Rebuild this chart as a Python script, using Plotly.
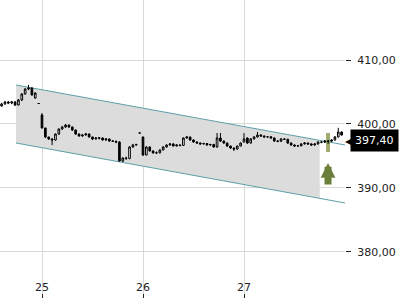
import plotly.graph_objects as go

# ---- data (prices) ----
day_of_bar = [24] * 12 + [25] * 30 + [26] * 30 + [27] * 30
slot_of_bar = list(range(18, 30)) + list(range(30)) * 3
bars_per_day = 30

opens = [402.81, 403.13, 403.44, 403.28, 403.44, 402.97, 403.75, 404.69, 405.47, 405.63, 404.06, 403.20,
         401.41, 399.38, 397.97, 397.66, 397.50, 398.44, 399.22, 399.53, 399.84, 399.53, 399.06, 398.44, 398.13, 398.28, 398.44,
         397.97, 397.66, 397.75, 397.81, 397.50, 397.66, 397.34, 397.30, 397.19, 394.22, 394.69, 394.60, 396.41, 396.72, 398.59,
         397.97, 395.16, 396.41, 395.78, 395.47, 395.50, 395.94, 396.41, 396.72, 396.88, 396.56, 396.72, 396.65, 397.81, 397.97,
         397.50, 397.19, 397.03, 396.88, 396.95, 396.72, 396.80, 396.41, 397.81, 397.34, 397.03, 396.56, 396.25, 396.09, 396.56,
         397.19, 397.81, 397.03, 397.66, 397.97, 398.28, 398.13, 397.97, 398.00, 397.81, 397.34, 397.30, 397.66, 397.60, 397.03,
         396.72, 396.56, 396.60, 396.88, 397.03, 396.88, 396.72, 396.88, 397.19, 397.15, 397.34, 397.30, 397.50, 397.97, 398.75]
closes = [403.13, 403.44, 403.28, 403.44, 402.97, 403.75, 404.69, 405.47, 405.63, 404.53, 404.84, 403.20,
          399.38, 397.97, 397.66, 397.50, 398.44, 399.22, 399.53, 399.84, 399.53, 399.06, 398.44, 398.13, 398.28, 398.44, 397.97,
          397.66, 397.81, 397.85, 397.50, 397.66, 397.34, 397.30, 397.19, 394.22, 394.69, 394.60, 396.41, 396.72, 396.80, 398.59,
          395.16, 396.41, 395.78, 395.47, 395.50, 395.94, 396.41, 396.72, 396.88, 396.56, 396.72, 396.65, 397.81, 397.97, 397.50,
          397.19, 397.03, 396.88, 396.95, 396.72, 396.80, 396.41, 397.81, 397.34, 397.03, 396.56, 396.25, 396.09, 396.56, 397.03,
          397.66, 397.03, 397.66, 397.97, 398.28, 398.13, 397.97, 398.00, 397.81, 397.34, 397.30, 397.66, 397.60, 397.03, 396.72,
          396.56, 396.60, 396.88, 397.03, 396.88, 396.72, 396.88, 397.19, 397.15, 397.34, 397.30, 397.50, 397.97, 398.75, 398.28]
highs = [403.30, 403.60, 403.60, 403.60, 403.60, 403.90, 404.80, 405.60, 406.10, 405.70, 404.95, 403.25,
         401.70, 399.40, 398.00, 397.80, 398.50, 399.30, 399.70, 400.00, 399.90, 399.60, 399.10, 398.50, 398.40, 398.60, 398.50,
         398.00, 397.90, 397.95, 397.90, 397.80, 397.70, 397.50, 397.40, 397.30, 394.80, 394.90, 396.50, 396.90, 396.90, 398.65,
         398.00, 396.50, 396.50, 395.90, 395.70, 396.00, 396.50, 396.80, 397.00, 397.00, 396.80, 396.80, 397.90, 398.10, 398.00,
         397.60, 397.30, 397.10, 397.05, 397.00, 396.90, 396.90, 398.59, 398.59, 397.40, 397.10, 396.60, 396.30, 396.60, 397.10,
         398.59, 397.90, 397.80, 398.10, 398.75, 398.40, 398.20, 398.10, 398.10, 397.90, 397.45, 397.80, 397.75, 397.70, 397.10,
         396.80, 396.70, 397.00, 397.15, 397.10, 397.00, 397.00, 397.30, 397.30, 397.50, 397.50, 397.60, 398.10, 399.40, 398.80]
lows = [402.70, 403.00, 403.10, 403.10, 402.80, 402.90, 403.60, 404.60, 405.30, 404.45, 403.95, 403.15,
        399.30, 397.80, 397.50, 396.70, 397.40, 398.30, 399.10, 399.40, 399.40, 398.90, 398.30, 398.00, 398.00, 398.20, 397.90,
        397.50, 397.60, 397.60, 397.40, 397.40, 397.20, 397.20, 397.00, 394.10, 394.06, 394.40, 394.50, 396.30, 396.60, 398.55,
        395.00, 395.10, 395.70, 395.40, 395.30, 395.40, 395.90, 396.30, 396.60, 396.50, 396.50, 396.50, 396.60, 397.70, 397.40,
        397.10, 396.90, 396.80, 396.80, 396.60, 396.60, 396.30, 396.30, 397.20, 396.90, 396.40, 396.10, 395.78, 396.00, 396.50,
        397.10, 396.90, 396.95, 397.60, 397.90, 398.00, 397.90, 397.85, 397.70, 397.20, 397.15, 397.20, 397.50, 396.90, 396.60,
        396.45, 396.45, 396.50, 396.80, 396.75, 396.60, 396.60, 396.80, 397.00, 397.05, 396.90, 397.20, 397.40, 397.90, 398.20]

# trend channel
channel_x = [24.743, 28.0]
channel_upper = [406.09, 396.72]
channel_lower = [397.03, 387.66]
channel_fill_end = 27.75

# signal
signal_x = 27.832
signal_bar = [395.63, 398.59]
signal_arrow_tip = 393.9

last_price = 397.40
last_price_text = "397,40"

x_ticks = [25, 26, 27]
x_tick_labels = ["25", "26", "27"]
y_ticks = [380, 390, 400, 410]
x_range = [24.5842, 28.0]
y_range = [372.81, 419.375]

# ---- figure ----
times = [d + k / bars_per_day for d, k in zip(day_of_bar, slot_of_bar)]


def on_line(xs, ys, xv):
    t = (xv - xs[0]) / (xs[1] - xs[0])
    return ys[0] + t * (ys[1] - ys[0])


fig = go.Figure()
fig.add_trace(go.Scatter(
    x=[channel_x[0], channel_fill_end, channel_fill_end, channel_x[0]],
    y=[channel_upper[0], on_line(channel_x, channel_upper, channel_fill_end),
       on_line(channel_x, channel_lower, channel_fill_end), channel_lower[0]],
    fill="toself", fillcolor="#dcdcdc", mode="lines", line=dict(width=0),
    hoverinfo="skip"))
for ys in (channel_upper, channel_lower):
    fig.add_trace(go.Scatter(x=channel_x, y=ys, mode="lines",
                             line=dict(color="#5b9fa8", width=1), hoverinfo="skip"))
fig.add_trace(go.Scatter(x=[signal_x, signal_x], y=signal_bar, mode="lines",
                         line=dict(color="rgba(125,145,60,0.75)", width=4), hoverinfo="skip"))
fig.add_trace(go.Candlestick(
    x=times, open=opens, high=highs, low=lows, close=closes,
    xaxis="x2", yaxis="y2",
    increasing=dict(line=dict(color="black", width=1), fillcolor="white"),
    decreasing=dict(line=dict(color="black", width=1), fillcolor="black"),
    whiskerwidth=0))

fig.add_annotation(x=signal_x, y=signal_arrow_tip, ax=0, ay=23, text="",
                   showarrow=True, arrowhead=2, arrowsize=0.42, arrowwidth=7,
                   arrowcolor="#6b7f3a")
fig.add_annotation(x=1, xref="paper", y=last_price, yref="y", xanchor="left", xshift=5,
                   text=last_price_text, showarrow=False, bgcolor="black", borderpad=4,
                   font=dict(family="DejaVu Sans", size=11, color="white"))
fig.add_annotation(x=1, xref="paper", y=last_price, yref="y", xanchor="left", xshift=-2,
                   text="◀", showarrow=False,
                   font=dict(family="DejaVu Sans", size=12, color="black"))

font = dict(family="DejaVu Sans", size=11, color="#222")
fig.update_layout(
    width=400, height=300, margin=dict(l=0, r=55, t=0, b=2),
    paper_bgcolor="white", plot_bgcolor="white", showlegend=False, separators=",.",
    xaxis=dict(range=x_range, tickvals=x_ticks, ticktext=x_tick_labels,
               showgrid=True, gridcolor="#d8d8d8", ticks="inside", ticklen=4,
               tickcolor="#222", ticklabelposition="inside", zeroline=False,
               tickfont=font),
    yaxis=dict(side="right", range=y_range, tickvals=y_ticks, tickformat=".2f",
               ticks="outside", ticklen=5, tickcolor="#222", showgrid=True,
               gridcolor="#d8d8d8", zeroline=False, tickfont=font,
               ticklabelstandoff=4),
    xaxis2=dict(overlaying="x", range=x_range, visible=False,
                rangeslider=dict(visible=False)),
    yaxis2=dict(overlaying="y", range=y_range, visible=False),
)
fig.write_html("out.html")
